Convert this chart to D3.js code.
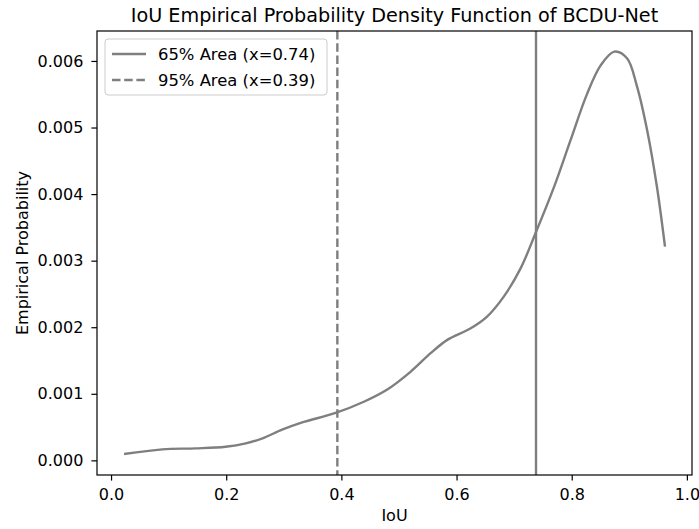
<!DOCTYPE html>
<html>
<head>
<meta charset="utf-8">
<script src="https://cdn.jsdelivr.net/npm/d3@7"></script>
<style>
  body { margin: 0; background: #fff; }
  svg { font-family: "DejaVu Sans", sans-serif; }
</style>
</head>
<body>
<svg></svg>
<script>
const width = 699, height = 529;

// IoU values and density
const iou = [0.0226, 0.089, 0.147, 0.199, 0.234, 0.263, 0.297, 0.332, 0.39, 0.439, 0.479, 0.52, 0.555,
             0.584, 0.624, 0.653, 0.682, 0.711, 0.738, 0.769, 0.798, 0.826, 0.85, 0.874, 0.896,
             0.913, 0.931, 0.948, 0.962];
const density = [0.000095, 0.000165, 0.00018, 0.000205, 0.000255, 0.00033, 0.00046, 0.00057, 0.000712,
                 0.00088, 0.00106, 0.00133, 0.00161, 0.00181, 0.00198, 0.00216, 0.00246, 0.00288, 0.00343,
                 0.00410, 0.00481, 0.00549, 0.00593, 0.00614, 0.00604, 0.00563, 0.00496, 0.00411,
                 0.00321];

// threshold lines
const thresholds = [
  { x: 0.738, label: "65% Area (x=0.74)", dash: null },
  { x: 0.393, label: "95% Area (x=0.39)", dash: "8.5,3.7" }
];

const xTicks = [0.0, 0.2, 0.4, 0.6, 0.8, 1.0];
const yTicks = [0.000, 0.001, 0.002, 0.003, 0.004, 0.005, 0.006];

const margin = { left: 97, right: 7, top: 31, bottom: 54 };
const svg = d3.select("svg").attr("width", width).attr("height", height);

const x = d3.scaleLinear().domain([-0.0244, 1.0089]).range([margin.left, width - margin.right]);
const y = d3.scaleLinear().domain([-0.00022, 0.00645]).range([height - margin.bottom, margin.top]);

const lineColor = "#7f7f7f";
const fs = 16;

// curve
const pts = iou.map((v, i) => [v, density[i]]);
svg.append("path")
  .datum(pts)
  .attr("fill", "none")
  .attr("stroke", lineColor)
  .attr("stroke-width", 2.4)
  .attr("d", d3.line().x(d => x(d[0])).y(d => y(d[1])).curve(d3.curveCatmullRom.alpha(0.5)));

// vertical threshold lines
svg.selectAll(".vline")
  .data(thresholds)
  .enter().append("line")
  .attr("x1", d => x(d.x)).attr("x2", d => x(d.x))
  .attr("y1", margin.top).attr("y2", height - margin.bottom)
  .attr("stroke", lineColor)
  .attr("stroke-width", 2.4)
  .attr("stroke-dasharray", d => d.dash);

// axes
const xAxis = d3.axisBottom(x).tickValues(xTicks).tickFormat(d3.format(".1f")).tickSize(5.6).tickPadding(8);
const yAxis = d3.axisLeft(y).tickValues(yTicks).tickFormat(d3.format(".3f")).tickSize(5.6).tickPadding(8);

const gx = svg.append("g").attr("transform", `translate(0,${height - margin.bottom})`).call(xAxis);
const gy = svg.append("g").attr("transform", `translate(${margin.left},0)`).call(yAxis);
[gx, gy].forEach(g => {
  g.select(".domain").remove();
  g.selectAll("text").attr("font-size", fs).attr("fill", "#000").attr("font-family", "DejaVu Sans");
  g.selectAll("line").attr("stroke", "#000").attr("stroke-width", 1.2);
});

// frame
svg.append("rect")
  .attr("x", margin.left).attr("y", margin.top)
  .attr("width", width - margin.left - margin.right)
  .attr("height", height - margin.top - margin.bottom)
  .attr("fill", "none").attr("stroke", "#000").attr("stroke-width", 1.2);

// labels
const cx = (margin.left + width - margin.right) / 2;
svg.append("text").attr("x", cx).attr("y", 22).attr("text-anchor", "middle")
  .attr("font-size", 19.2).text("IoU Empirical Probability Density Function of BCDU-Net");
svg.append("text").attr("x", cx).attr("y", 521).attr("text-anchor", "middle")
  .attr("font-size", fs).text("IoU");
svg.append("text")
  .attr("transform", `translate(28,${(margin.top + height - margin.bottom) / 2}) rotate(-90)`)
  .attr("text-anchor", "middle").attr("font-size", fs).text("Empirical Probability");

// legend
const legend = svg.append("g").attr("transform", "translate(105,39)");
legend.append("rect").attr("width", 222).attr("height", 56).attr("rx", 3)
  .attr("fill", "#fff").attr("fill-opacity", 0.8).attr("stroke", "#ccc");
const item = legend.selectAll(".item").data(thresholds).enter().append("g")
  .attr("transform", (d, i) => `translate(0,${15 + i * 26})`);
item.append("line").attr("x1", 7).attr("x2", 41)
  .attr("stroke", lineColor).attr("stroke-width", 2.4)
  .attr("stroke-dasharray", d => d.dash);
item.append("text").attr("x", 53).attr("y", 5.8).attr("font-size", 16.4).text(d => d.label);
</script>
</body>
</html>
